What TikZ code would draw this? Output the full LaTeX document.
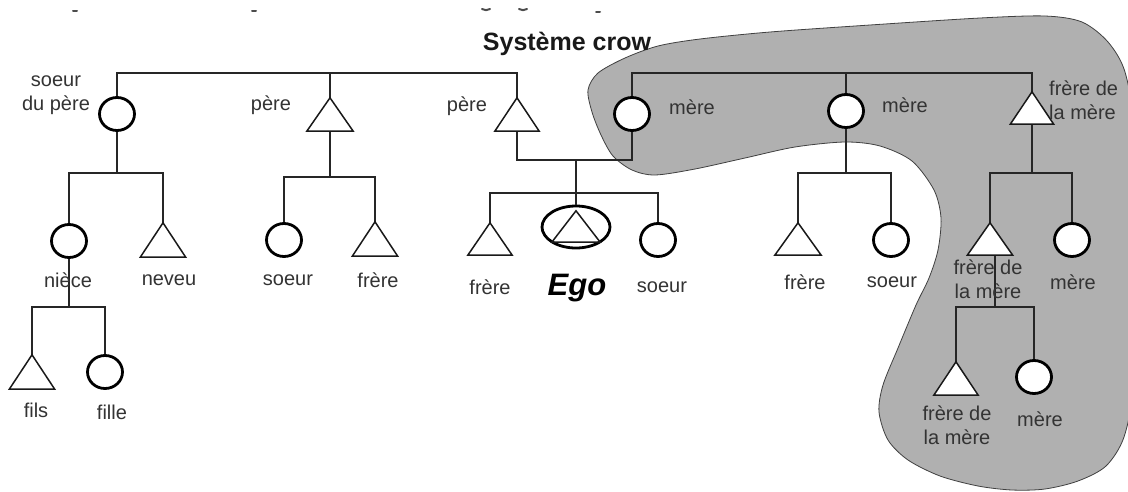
\documentclass[tikz,border=0pt]{standalone}
\usepackage{fontspec}
\setmainfont{Liberation Sans}
\usetikzlibrary{shapes.geometric,calc}
\begin{document}
\begin{tikzpicture}[x=1pt,y=-1pt,
  lbl/.style={font=\fontsize{20}{24}\selectfont, text=black!80, inner sep=0, align=center},
  fem/.style={ellipse, draw=black, line width=2.8pt, fill=white, minimum width=35pt, minimum height=33pt, inner sep=0},
  trislot/.style={rectangle, minimum width=45pt, minimum height=33pt, inner sep=0},
  tri/.style={draw=black!90, line width=1.5pt, fill=white, line join=miter},
  link/.style={draw=black!85, line width=1.5pt},
  zone/.style={fill=black!31, draw=black!75, line width=0.8pt},
  frag/.style={draw=black!70, line width=2pt, line cap=round}]
\useasboundingbox (0,0) rectangle (1128,491);
\clip (0,0) rectangle (1128,491);
\fill[white] (0,0) rectangle (1128,491);

% shaded matrilineal zone
\draw[zone] plot[smooth cycle, tension=0.5] coordinates {
 (588,90) (598,73) (625,58) (658,46) (700,39) (770,32) (870,25) (980,18)
 (1045,16) (1082,22) (1108,42) (1125,72) (1134,130) (1136,260) (1133,385)
 (1124,437) (1106,466) (1078,481) (1045,489) (1012,490) (978,486) (940,476)
 (908,460) (888,440) (879,412) (883,385) (898,348) (916,305) (929,278)
 (938,250) (941,218) (934,190) (912,161) (880,146) (845,142) (795,147)
 (745,158) (695,169) (655,175) (632,170) (613,156) (601,135) (592,112)};

% fragments of cut-off text at the top
\draw[frag] (73,11) -- (77,11);
\draw[frag] (252,11) -- (256,11);
\draw[frag] (482,9) to[bend right] (490,9);
\draw[frag] (519,9) to[bend right] (527,9);
\draw[frag] (596,12) -- (600,12);

\node[font=\fontsize{25}{30}\selectfont\bfseries, text=black!90, inner sep=0] (title) at (567,44) {Système crow};

% circles (women) and slots for triangles (men)
\node[fem] (sdp) at (117,114) {};
\node[trislot, minimum width=46pt] (p1) at (330,114.5) {};
\node[trislot, minimum width=44pt] (p2) at (517,114.5) {};
\node[fem] (m1) at (632,114) {};
\node[fem] (m2) at (846,111) {};
\node[trislot, minimum width=43pt, minimum height=32pt] (f1) at (1032,108) {};
\node[trislot, minimum width=44pt, minimum height=32pt] (fr) at (490,239) {};
\node[ellipse, draw=black, line width=2.8pt, fill=white, minimum width=68pt, minimum height=42pt, inner sep=0] (ego) at (576,227) {};
\node[trislot, minimum width=48pt, minimum height=31pt] (egot) at (576,226.5) {};
\node[fem] (so) at (658,240) {};
\node[fem] (nie) at (69,241) {};
\node[trislot, minimum height=34pt] (nev) at (163,240) {};
\node[trislot, minimum height=34pt] (fils) at (32,372) {};
\node[fem] (fille) at (105,372) {};
\node[fem] (soe) at (284,240) {};
\node[trislot, minimum height=34pt] (fre) at (375,239) {};
\node[trislot, minimum width=46pt, minimum height=32pt] (fr2) at (798,239) {};
\node[fem] (so2) at (891,240) {};
\node[trislot, minimum height=32pt] (f2) at (990,239) {};
\node[fem] (m3) at (1072,240) {};
\node[trislot, minimum width=44pt] (f3) at (956,378.5) {};
\node[fem] (m4) at (1034,377) {};

% junction points
\coordinate (topL) at (330,73);
\coordinate (topR) at (846,73);
\coordinate (mar) at (576,160);
\coordinate (sibE) at (576,193);
\coordinate (sdpbar) at (117,173);
\coordinate (p1bar) at (330,177);
\coordinate (niebar) at (69,307);
\coordinate (m2bar) at (846,173);
\coordinate (f1bar) at (1032,173);
\coordinate (f2bar) at (995,307);

% connectors
\draw[link] (sdp.north) |- (topL) -| (p2.north);
\draw[link] (topL) -- (p1.north);
\draw[link] (m1.north) |- (topR) -| (f1.north);
\draw[link] (topR) -- (m2.north);
\draw[link] (p2.south) |- (mar) -| (m1.south);
\draw[link] (mar) -- (ego.north);
\draw[link] (fr.north) |- (sibE) -| (so.north);
\draw[link] (sdp.south) -- (sdpbar);
\draw[link] (nie.north) |- (sdpbar) -| (nev.north);
\draw[link] (nie.south) -- (niebar);
\draw[link] (fils.north) |- (niebar) -| (fille.north);
\draw[link] (p1.south) -- (p1bar);
\draw[link] (soe.north) |- (p1bar) -| (fre.north);
\draw[link] (m2.south) -- (m2bar);
\draw[link] (fr2.north) |- (m2bar) -| (so2.north);
\draw[link] (f1.south) -- (f1bar);
\draw[link] (f2.north) |- (f1bar) -| (m3.north);
\draw[link] (f2bar |- f2.south) -- (f2bar);
\draw[link] (f3.north) |- (f2bar) -| (m4.north);

% triangles
\foreach \t in {p1,p2,f1,fr,nev,fils,fre,fr2,f2,f3}
  \draw[tri] (\t.north) -- (\t.south east) -- (\t.south west) -- cycle;
\draw[tri, fill=none] (egot.north) -- (egot.south east) -- (egot.south west) -- cycle;

% labels
\node[lbl] (l-sdp) at (56,95) {soeur\\du père};
\node[lbl] (l-p1) at (271,105) {père};
\node[lbl] (l-p2) at (467,106) {père};
\node[lbl] (l-m1) at (692,107) {mère};
\node[lbl] (l-m2) at (905,105) {mère};
\node[lbl, align=left, anchor=west] (l-f1) at (1049,100) {frère de\\la mère};
\node[lbl] (l-nie) at (68,280) {nièce};
\node[lbl] (l-nev) at (169,280) {neveu};
\node[lbl] (l-fils) at (36,410) {fils};
\node[lbl] (l-fille) at (112,412) {fille};
\node[lbl] (l-soe) at (288,280) {soeur};
\node[lbl] (l-fre) at (378,280) {frère};
\node[lbl] (l-fr) at (490,287) {frère};
\node[font=\fontsize{31}{36}\selectfont\bfseries\itshape, text=black, inner sep=0] (l-ego) at (577,288) {Ego};
\node[lbl] (l-so) at (662,287) {soeur};
\node[lbl] (l-fr2) at (805,282) {frère};
\node[lbl] (l-so2) at (892,282) {soeur};
\node[lbl] (l-f2) at (988,279) {frère de\\la mère};
\node[lbl] (l-m3) at (1073,282) {mère};
\node[lbl] (l-f3) at (957,425) {frère de\\la mère};
\node[lbl] (l-m4) at (1040,419) {mère};
\end{tikzpicture}
\end{document}
